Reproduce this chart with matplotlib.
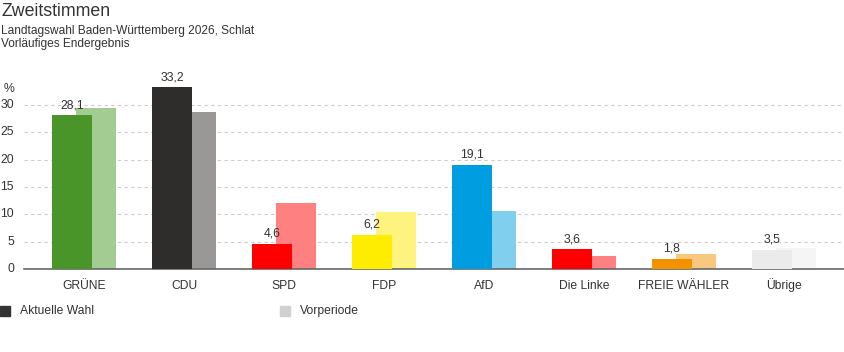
import numpy as np
import matplotlib
matplotlib.use("Agg")
from matplotlib import pyplot as plt

plt.rcParams['font.family'] = ['Liberation Sans', 'DejaVu Sans']

parteien = ['GRÜNE', 'CDU', 'SPD', 'FDP', 'AfD', 'Die Linke', 'FREIE WÄHLER', 'Übrige']
aktuell = [28.1, 33.2, 4.6, 6.2, 19.1, 3.6, 1.8, 3.5]
vorperiode = [29.4, 28.7, 12.1, 10.4, 10.6, 2.4, 2.7, 3.9]
farben_akt = ['#4a952a', '#2e2d2c', '#ff0000', '#ffed00', '#009ee0', '#ff0000', '#f39200', '#ebebeb']
farben_vor = ['#a3cc93', '#999896', '#ff8080', '#fff380', '#80cfef', '#ff8080', '#f9c880', '#f5f5f5']
yticks = [0, 5, 10, 15, 20, 25, 30]

W, H = 844, 352
fig = plt.figure(figsize=(W/100, H/100), dpi=100)
ax = fig.add_axes([24/W, (H-269)/H, 820/W, 199/H])

x = np.arange(len(parteien))
bw = 0.40
ax.bar(x + 0.12, vorperiode, bw, color=farben_vor, zorder=2)
ax.bar(x - 0.12, aktuell, bw, color=farben_akt, zorder=3)

for xi, v in zip(x, aktuell):
    ax.annotate(f'{v:.1f}'.replace('.', ','), (xi - 0.12, v), xytext=(0, 3),
                textcoords='offset points', ha='center', va='bottom',
                fontsize=8.8, color='#333333', zorder=4)

ax.set_xlim(-0.6, 7.6)
ax.set_ylim(0, 199/5.47)
for t in yticks[1:]:
    ax.axhline(t, color='#cccccc', lw=0.8, ls=(0, (3, 3)), zorder=1)

for s in ['top', 'right', 'left']:
    ax.spines[s].set_visible(False)
ax.spines['bottom'].set_color('#666666')
ax.spines['bottom'].set_linewidth(1.2)
ax.set_xticks([])
ax.set_yticks([])

# category labels on a common baseline
for xi, p in zip(x, parteien):
    ax.text(xi, 0, p, transform=ax.get_xaxis_transform(), ha='center', va='baseline',
            fontsize=8.7, color='#333333')
    ax.texts[-1].set_y(-20/199)

for t in yticks:
    ypix = 269 - t*5.47
    fig.text(14/W, 1 - ypix/H, str(t), ha='right', va='center', fontsize=8.8, color='#333333')
fig.text(4/W, 1 - 89/H, '%', ha='left', va='center', fontsize=8.8, color='#333333')

fig.text(1/W, 1 - 11/H, 'Zweitstimmen', ha='left', va='center', fontsize=12.8, color='#333333')
fig.text(1/W, 1 - 31/H, 'Landtagswahl Baden-Württemberg 2026, Schlat', ha='left', va='center', fontsize=8.6, color='#333333')
fig.text(1/W, 1 - 44/H, 'Vorläufiges Endergebnis', ha='left', va='center', fontsize=8.6, color='#333333')

# legend
fig.patches.append(plt.Rectangle((0, 1 - 316/H), 10/W, 10/H, transform=fig.transFigure, color='#333333'))
fig.text(20/W, 1 - 311/H, 'Aktuelle Wahl', ha='left', va='center', fontsize=8.7, color='#333333')
fig.patches.append(plt.Rectangle((280/W, 1 - 316/H), 10/W, 10/H, transform=fig.transFigure, color='#d0d0d0'))
fig.text(300/W, 1 - 311/H, 'Vorperiode', ha='left', va='center', fontsize=8.7, color='#333333')

fig.savefig('out.png', dpi=100)
